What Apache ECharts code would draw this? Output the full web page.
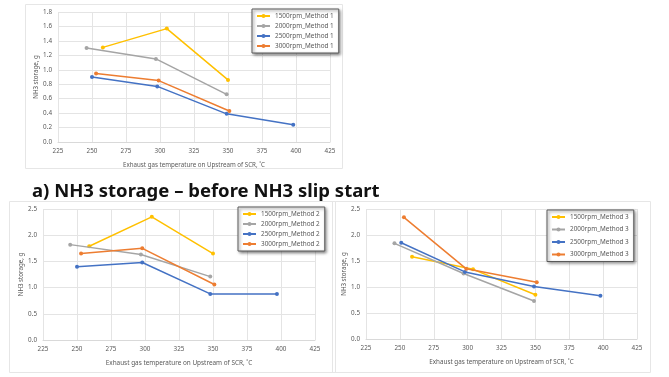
<!DOCTYPE html>
<html><head><meta charset="utf-8">
<script src="https://cdn.jsdelivr.net/npm/echarts@6/dist/echarts.min.js"></script>
<style>html,body{margin:0;padding:0;background:#fff;}#c{width:669px;height:377px;}</style>
</head><body><div id="c"></div>
<script>
// Data (x = exhaust gas temperature °C, y = NH3 storage g)
const rpmNames = ['1500rpm', '2000rpm', '2500rpm', '3000rpm'];
const colors = ['#FFC000', '#A5A5A5', '#4472C4', '#ED7D31'];

// Method 1
const m1_1500_x = [258, 305, 350], m1_1500_y = [1.31, 1.57, 0.86];
const m1_2000_x = [246, 297, 349], m1_2000_y = [1.30, 1.15, 0.66];
const m1_2500_x = [250, 298, 349, 398], m1_2500_y = [0.90, 0.77, 0.39, 0.24];
const m1_3000_x = [253, 299, 351], m1_3000_y = [0.95, 0.85, 0.43];
// Method 2
const m2_1500_x = [259, 305, 350], m2_1500_y = [1.79, 2.35, 1.65];
const m2_2000_x = [245, 297, 348], m2_2000_y = [1.82, 1.63, 1.21];
const m2_2500_x = [250, 298, 348, 397], m2_2500_y = [1.40, 1.48, 0.88, 0.88];
const m2_3000_x = [253, 298, 351], m2_3000_y = [1.65, 1.75, 1.06];
// Method 3
const m3_1500_x = [259, 304, 350], m3_1500_y = [1.58, 1.34, 0.85];
const m3_2000_x = [246, 297, 349], m3_2000_y = [1.84, 1.26, 0.73];
const m3_2500_x = [251, 298, 349, 398], m3_2500_y = [1.85, 1.29, 1.01, 0.83];
const m3_3000_x = [253, 299, 351], m3_3000_y = [2.34, 1.35, 1.09];

const xTicks = {min: 225, max: 425, interval: 25};
const yAxes = [{max: 1.8, interval: 0.2}, {max: 2.5, interval: 0.5}, {max: 2.5, interval: 0.5}];
const xTitle = 'Exhaust gas temperature on Upstream of SCR, ˚C';
const yTitle = 'NH3 storage, g';
const caption = 'a) NH3 storage \u2013 before NH3 slip start';

const methods = [
  [[m1_1500_x, m1_1500_y], [m1_2000_x, m1_2000_y], [m1_2500_x, m1_2500_y], [m1_3000_x, m1_3000_y]],
  [[m2_1500_x, m2_1500_y], [m2_2000_x, m2_2000_y], [m2_2500_x, m2_2500_y], [m2_3000_x, m2_3000_y]],
  [[m3_1500_x, m3_1500_y], [m3_2000_x, m3_2000_y], [m3_2500_x, m3_2500_y], [m3_3000_x, m3_3000_y]]
];

const font = 'Noto Sans';
const grids = [
  {left: 58, right: 339, top: 12, bottom: 235},
  {left: 43, right: 354, top: 209, bottom: 37},
  {left: 366, right: 32, top: 209, bottom: 38}
];
const legends = [
  {left: 252, top: 9, gap: 4},
  {left: 238, top: 207, gap: 4},
  {left: 547, top: 210, gap: 6.5}
];
const titleSizes = [6.2, 6.4, 6.3];

const chart = echarts.init(document.getElementById('c'));
const xAxis = [], yAxis = [], series = [], legend = [];
grids.forEach((g, i) => {
  xAxis.push({
    type: 'value', gridIndex: i, min: xTicks.min, max: xTicks.max, interval: xTicks.interval,
    name: xTitle, nameLocation: 'middle', nameGap: 20,
    nameTextStyle: {fontSize: titleSizes[i], color: '#595959', fontFamily: font},
    axisLine: {show: true, lineStyle: {color: '#D9D9D9'}}, axisTick: {show: false},
    axisLabel: {fontSize: 6.3, color: '#595959', fontFamily: font, margin: 6},
    splitLine: {show: true, lineStyle: {color: '#E4E4E4', width: 1}}
  });
  yAxis.push({
    type: 'value', gridIndex: i, min: 0, max: yAxes[i].max, interval: yAxes[i].interval,
    name: yTitle, nameLocation: 'middle', nameGap: 19,
    nameTextStyle: {fontSize: 6.2, color: '#595959', fontFamily: font},
    axisLine: {show: false}, axisTick: {show: false},
    axisLabel: {fontSize: 6.3, color: '#595959', fontFamily: font, margin: 6,
      formatter: v => v.toFixed(1)},
    splitLine: {show: true, lineStyle: {color: '#E4E4E4', width: 1}}
  });
  const names = [];
  methods[i].forEach((s, k) => {
    const name = rpmNames[k] + '_Method ' + (i + 1);
    names.push(name);
    series.push({
      type: 'line', name: name, xAxisIndex: i, yAxisIndex: i,
      data: s[0].map((x, j) => [x, s[1][j]]),
      symbol: 'circle', symbolSize: 4, showSymbol: true,
      lineStyle: {width: 1.5, color: colors[k]}, itemStyle: {color: colors[k]},
      animation: false, z: 3 + k
    });
  });
  legend.push({
    data: names, orient: 'vertical', left: legends[i].left, top: legends[i].top,
    itemGap: legends[i].gap, itemWidth: 13, itemHeight: 5,
    padding: [4, 5, 4, 4],
    textStyle: {fontSize: 6.4, color: '#595959', fontFamily: font},
    borderColor: '#595959', borderWidth: 1, backgroundColor: '#fff',
    shadowColor: 'rgba(0,0,0,0.5)', shadowBlur: 3, shadowOffsetX: 1.5, shadowOffsetY: 1.5
  });
});

chart.setOption({
  animation: false,
  backgroundColor: '#fff',
  grid: grids,
  xAxis: xAxis, yAxis: yAxis, series: series, legend: legend,
  graphic: [
    {type: 'rect', shape: {x: 25.5, y: 4.5, width: 317, height: 164}, style: {fill: 'none', stroke: '#E6E6E6', lineWidth: 1}, z: -1},
    {type: 'rect', shape: {x: 9.5, y: 201.5, width: 326, height: 171}, style: {fill: 'none', stroke: '#E6E6E6', lineWidth: 1}, z: -1},
    {type: 'rect', shape: {x: 332.5, y: 201.5, width: 318, height: 171}, style: {fill: 'none', stroke: '#E6E6E6', lineWidth: 1}, z: -1},
    {type: 'text', left: 32, top: 182, style: {text: caption, fontSize: 18.5, fontWeight: 'bold', fill: '#111', fontFamily: font}}
  ]
});
</script></body></html>
